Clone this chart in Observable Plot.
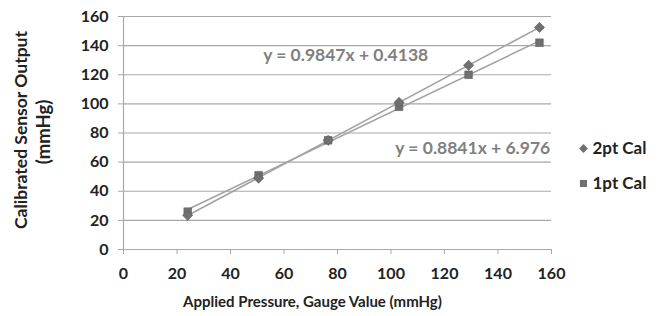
<!DOCTYPE html>
<html>
<head>
<meta charset="utf-8">
<script src="https://cdn.jsdelivr.net/npm/d3@7"></script>
<script src="https://cdn.jsdelivr.net/npm/@observablehq/plot@0.6"></script>
<style>
  html, body { margin: 0; padding: 0; background: #fff; }
  svg { font-family: Lato, "Open Sans", sans-serif; }
</style>
</head>
<body>
<div id="chart"></div>
<script>
// Applied pressure (gauge value, mmHg)
const applied = [24, 50.5, 76.5, 103, 129, 155.5];
// Calibrated sensor output (mmHg)
const cal2pt = [23.5, 49, 75, 101, 126.5, 152.5];
const cal1pt = [26, 51, 75, 98, 120, 142];
const seriesNames = ["2pt Cal", "1pt Cal"];
const equations = ["y = 0.9847x + 0.4138", "y = 0.8841x + 6.976"];
const xTicks = [0, 20, 40, 60, 80, 100, 120, 140, 160];
const yTicks = [0, 20, 40, 60, 80, 100, 120, 140, 160];

const data2 = applied.map((x, i) => ({x, y: cal2pt[i]}));
const data1 = applied.map((x, i) => ({x, y: cal1pt[i]}));

// annotation anchors (data coordinates) for the equation labels
const eqPos = [{x: 52.2, y: 133.2}, {x: 101.6, y: 69.4}];

const dark = "#222";
const lineCol = "#a3a3a3";
const markCol = "#707070";
const eqCol = "#808080";

const plot = Plot.plot({
  width: 660,
  height: 316,
  marginLeft: 123,
  marginRight: 109,
  marginTop: 16,
  marginBottom: 67,
  x: {domain: [0, 160]},
  y: {domain: [0, 160]},
  style: {fontFamily: "Lato, sans-serif", background: "#fff"},
  marks: [
    Plot.gridY(yTicks.filter(d => d > 0), {stroke: "#a8a8a8", strokeOpacity: 1, strokeWidth: 1.2}),
    Plot.ruleX([0], {stroke: "#a8a8a8", strokeWidth: 1.2}),
    Plot.ruleY([0], {stroke: "#a8a8a8", strokeWidth: 1.2}),
    Plot.axisY({ticks: yTicks, tickSize: 5, tickPadding: 10, fontSize: 16, fontWeight: "bold", fill: dark, stroke: "#a8a8a8", label: null, tickFormat: d => d}),
    Plot.axisX({ticks: xTicks, tickSize: 5, tickPadding: 13, fontSize: 16, fontWeight: "bold", fill: dark, stroke: "#a8a8a8", label: null, tickFormat: d => d}),
    Plot.linearRegressionY(data2, {x: "x", y: "y", stroke: lineCol, strokeWidth: 1.6, ci: 0}),
    Plot.linearRegressionY(data1, {x: "x", y: "y", stroke: lineCol, strokeWidth: 1.6, ci: 0}),
    Plot.dot(data1, {x: "x", y: "y", symbol: "square", r: 4.3, fill: markCol, stroke: "#5a5a5a", strokeWidth: 0.6}),
    Plot.dot(data2, {x: "x", y: "y", symbol: "diamond2", r: 4.6, fill: markCol, stroke: "#5a5a5a", strokeWidth: 0.6}),
    Plot.text(equations, {x: (d, i) => eqPos[i].x, y: (d, i) => eqPos[i].y, text: d => d, textAnchor: "start", lineAnchor: "middle", fontSize: 17.5, fontWeight: "bold", fill: eqCol}),
    // axis titles
    Plot.text(["Applied Pressure, Gauge Value (mmHg)"], {frameAnchor: "bottom", dx: -25, dy: 53, textAnchor: "middle", lineAnchor: "middle", fontSize: 15, fontWeight: "bold", fill: dark}),
    Plot.text(["Calibrated Sensor Output"], {frameAnchor: "left", dx: -102, dy: -3, rotate: -90, textAnchor: "middle", lineAnchor: "middle", fontSize: 17.5, fontWeight: "bold", fill: dark}),
    Plot.text(["(mmHg)"], {frameAnchor: "left", dx: -79, dy: -1, rotate: -90, textAnchor: "middle", lineAnchor: "middle", fontSize: 18.5, fontWeight: "bold", fill: dark}),
    // legend
    Plot.dot([seriesNames[0]], {frameAnchor: "right", dx: 32, dy: 15.5, symbol: "diamond2", r: 4, fill: markCol, stroke: null}),
    Plot.dot([seriesNames[1]], {frameAnchor: "right", dx: 32, dy: 50.5, symbol: "square", r: 4, fill: markCol}),
    Plot.text([seriesNames[0]], {frameAnchor: "right", dx: 41, dy: 15.5, textAnchor: "start", lineAnchor: "middle", fontSize: 17, fontWeight: "bold", fill: dark}),
    Plot.text([seriesNames[1]], {frameAnchor: "right", dx: 41, dy: 50.5, textAnchor: "start", lineAnchor: "middle", fontSize: 17, fontWeight: "bold", fill: dark})
  ]
});
document.getElementById("chart").appendChild(plot);
</script>
</body>
</html>
